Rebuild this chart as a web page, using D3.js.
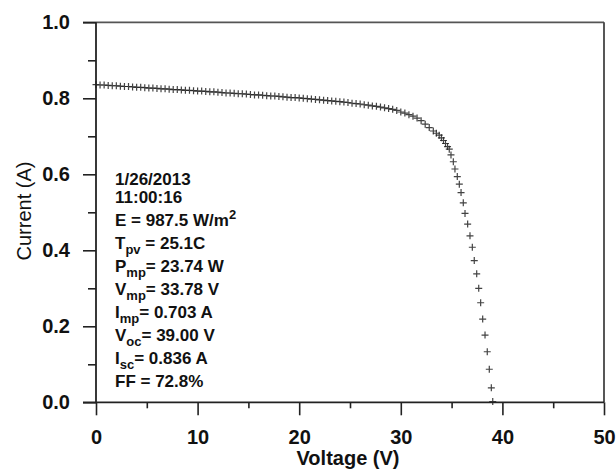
<!DOCTYPE html>
<html>
<head>
<meta charset="utf-8">
<script src="https://cdn.jsdelivr.net/npm/d3@7/dist/d3.min.js"></script>
<style>
  body { margin: 0; background: #fff; }
</style>
</head>
<body>
<div id="chart"></div>
<script>
// measured I-V points (voltage in V, current in A)
var voltage = [
  0.0, 0.4, 0.8, 1.2, 1.6, 2.0, 2.4, 2.8, 3.2, 3.6, 4.0, 4.4, 4.8, 5.2, 5.6, 6.0,
  6.4, 6.8, 7.2, 7.6, 8.0, 8.4, 8.8, 9.2, 9.6, 10.0, 10.4, 10.8, 11.2, 11.6, 12.0,
  12.4, 12.8, 13.2, 13.6, 14.0, 14.4, 14.8, 15.2, 15.6, 16.0, 16.4, 16.8, 17.2,
  17.6, 18.0, 18.4, 18.8, 19.2, 19.6, 20.0, 20.4, 20.8, 21.2, 21.6, 22.0, 22.4,
  22.8, 23.2, 23.6, 24.0, 24.4, 24.8, 25.2, 25.6, 26.0, 26.4, 26.8, 27.2, 27.6,
  28.0, 28.4, 28.8, 29.2, 29.6, 30.0, 30.4, 30.8, 31.2, 31.6, 32.0, 32.4, 32.8,
  33.2, 33.5, 33.78, 34.0, 34.2, 34.4, 34.6, 34.77, 34.94, 35.17, 35.33, 35.56,
  35.76, 35.93, 36.15, 36.32, 36.58, 36.81, 37.04, 37.23, 37.47, 37.67, 37.86,
  38.06, 38.29, 38.51, 38.71, 38.91, 39.05
];
var current = [
  0.836, 0.835, 0.835, 0.834, 0.833, 0.833, 0.832, 0.831, 0.831, 0.830, 0.829,
  0.829, 0.828, 0.827, 0.827, 0.826, 0.825, 0.825, 0.824, 0.823, 0.823, 0.822,
  0.821, 0.821, 0.820, 0.819, 0.819, 0.818, 0.817, 0.817, 0.816, 0.815, 0.814,
  0.814, 0.813, 0.812, 0.812, 0.811, 0.810, 0.809, 0.809, 0.808, 0.807, 0.806,
  0.806, 0.805, 0.804, 0.803, 0.802, 0.802, 0.801, 0.800, 0.799, 0.798, 0.797,
  0.796, 0.795, 0.794, 0.793, 0.792, 0.791, 0.790, 0.789, 0.787, 0.786, 0.785,
  0.783, 0.782, 0.780, 0.779, 0.777, 0.775, 0.773, 0.771, 0.768, 0.764, 0.761,
  0.757, 0.753, 0.748, 0.741, 0.732, 0.723, 0.714, 0.708, 0.703, 0.696, 0.689,
  0.681, 0.673, 0.666, 0.651, 0.633, 0.614, 0.594, 0.574, 0.552, 0.525, 0.497,
  0.469, 0.438, 0.408, 0.373, 0.338, 0.300, 0.262, 0.219, 0.177, 0.133, 0.087,
  0.038, 0.002
];

var xTicks = [0, 10, 20, 30, 40, 50];
var xMinor = [5, 15, 25, 35, 45];
var yTicks = [0, 0.2, 0.4, 0.6, 0.8, 1.0];
var yMinor = [0.1, 0.3, 0.5, 0.7, 0.9];

// annotation lines, each a list of [text, kind] pieces
var notes = [
  [["1/26/2013"]],
  [["11:00:16"]],
  [["E = 987.5 W/m"], ["2", "sup"]],
  [["T"], ["pv", "sub"], [" = 25.1C"]],
  [["P"], ["mp", "sub"], ["= 23.74 W"]],
  [["V"], ["mp", "sub"], ["= 33.78 V"]],
  [["I"], ["mp", "sub"], ["= 0.703 A"]],
  [["V"], ["oc", "sub"], ["= 39.00 V"]],
  [["I"], ["sc", "sub"], ["= 0.836 A"]],
  [["FF = 72.8%"]]
];

var width = 616, height = 474;
var x = d3.scaleLinear().domain([0, 50]).range([96, 604]);
var y = d3.scaleLinear().domain([0, 1]).range([402.3, 22.3]);

var points = voltage.map(function(v, i) { return {v: v, c: current[i]}; });

var svg = d3.select('#chart').append('svg')
  .attr('width', width)
  .attr('height', height)
  .style('font-family', '"Liberation Sans", Arial, sans-serif');

// frame: top and right sides
svg.append('line')
  .attr('x1', 83).attr('x2', x(50)).attr('y1', y(1)).attr('y2', y(1))
  .style('stroke', '#555').style('stroke-width', 1.8);
svg.append('line')
  .attr('x1', x(50)).attr('x2', x(50)).attr('y1', y(1)).attr('y2', y(0))
  .style('stroke', '#444').style('stroke-width', 1.8);

// x axis
var xAxis = svg.append('g')
  .attr('transform', 'translate(0,' + y(0) + ')')
  .call(d3.axisBottom(x).tickValues(xTicks).tickSize(13).tickPadding(15)
    .tickFormat(d3.format('d')));
svg.append('g')
  .attr('transform', 'translate(0,' + y(0) + ')')
  .call(d3.axisBottom(x).tickValues(xMinor).tickSize(6).tickFormat(''))
  .select('.domain').remove();

// y axis
var yAxis = svg.append('g')
  .attr('transform', 'translate(' + x(0) + ',0)')
  .call(d3.axisLeft(y).tickValues(yTicks).tickSize(13).tickPadding(13)
    .tickFormat(d3.format('.1f')));
svg.append('g')
  .attr('transform', 'translate(' + x(0) + ',0)')
  .call(d3.axisLeft(y).tickValues(yMinor).tickSize(8).tickFormat(''))
  .select('.domain').remove();

svg.selectAll('.domain').remove();
svg.append('line')
  .attr('x1', 83).attr('x2', x(50)).attr('y1', y(0)).attr('y2', y(0))
  .style('stroke', '#222').style('stroke-width', 1.8);
svg.append('line')
  .attr('x1', x(0)).attr('x2', x(0)).attr('y1', y(1)).attr('y2', y(0))
  .style('stroke', '#222').style('stroke-width', 1.8);

svg.selectAll('.tick line').style('stroke', '#222').style('stroke-width', 1.6);
svg.selectAll('.tick text')
  .style('font-size', '20px')
  .style('font-weight', 'bold')
  .style('fill', '#111');
xAxis.selectAll('.tick text').attr('dy', '0.71em');

// axis titles
svg.append('text')
  .attr('x', 348).attr('y', 465)
  .attr('text-anchor', 'middle')
  .style('font-size', '20px').style('font-weight', 'bold').style('fill', '#111')
  .text('Voltage (V)');
svg.append('text')
  .attr('transform', 'translate(31,211) rotate(-90)')
  .attr('text-anchor', 'middle')
  .style('font-size', '20px').style('fill', '#111')
  .text('Current (A)');

// data markers
svg.append('g').selectAll('path')
  .data(points)
  .enter().append('path')
  .attr('transform', function(d) { return 'translate(' + x(d.v) + ',' + y(d.c) + ')'; })
  .attr('d', 'M-3.5,0H3.5M0,-3.5V3.5')
  .style('fill', 'none')
  .style('stroke', '#222')
  .style('stroke-width', 1.2)
  .style('stroke-opacity', 0.85);

// annotation block
var noteText = svg.append('g')
  .style('font-size', '17px')
  .style('font-weight', 'bold')
  .style('fill', '#111');

notes.forEach(function(parts, i) {
  var yy = i === 0 ? 185 : 203.3 + (i - 1) * 22.9;
  var t = noteText.append('text').attr('x', 115).attr('y', yy);
  var shift = 0;
  parts.forEach(function(p) {
    var s = t.append('tspan').text(p[0]);
    if (p[1] === 'sub') {
      s.attr('dy', 5 - shift).style('font-size', '13px');
      shift = 5;
    } else if (p[1] === 'sup') {
      s.attr('dy', -7 - shift).style('font-size', '13px');
      shift = -7;
    } else if (shift !== 0) {
      s.attr('dy', -shift);
      shift = 0;
    }
  });
});
</script>
</body>
</html>
